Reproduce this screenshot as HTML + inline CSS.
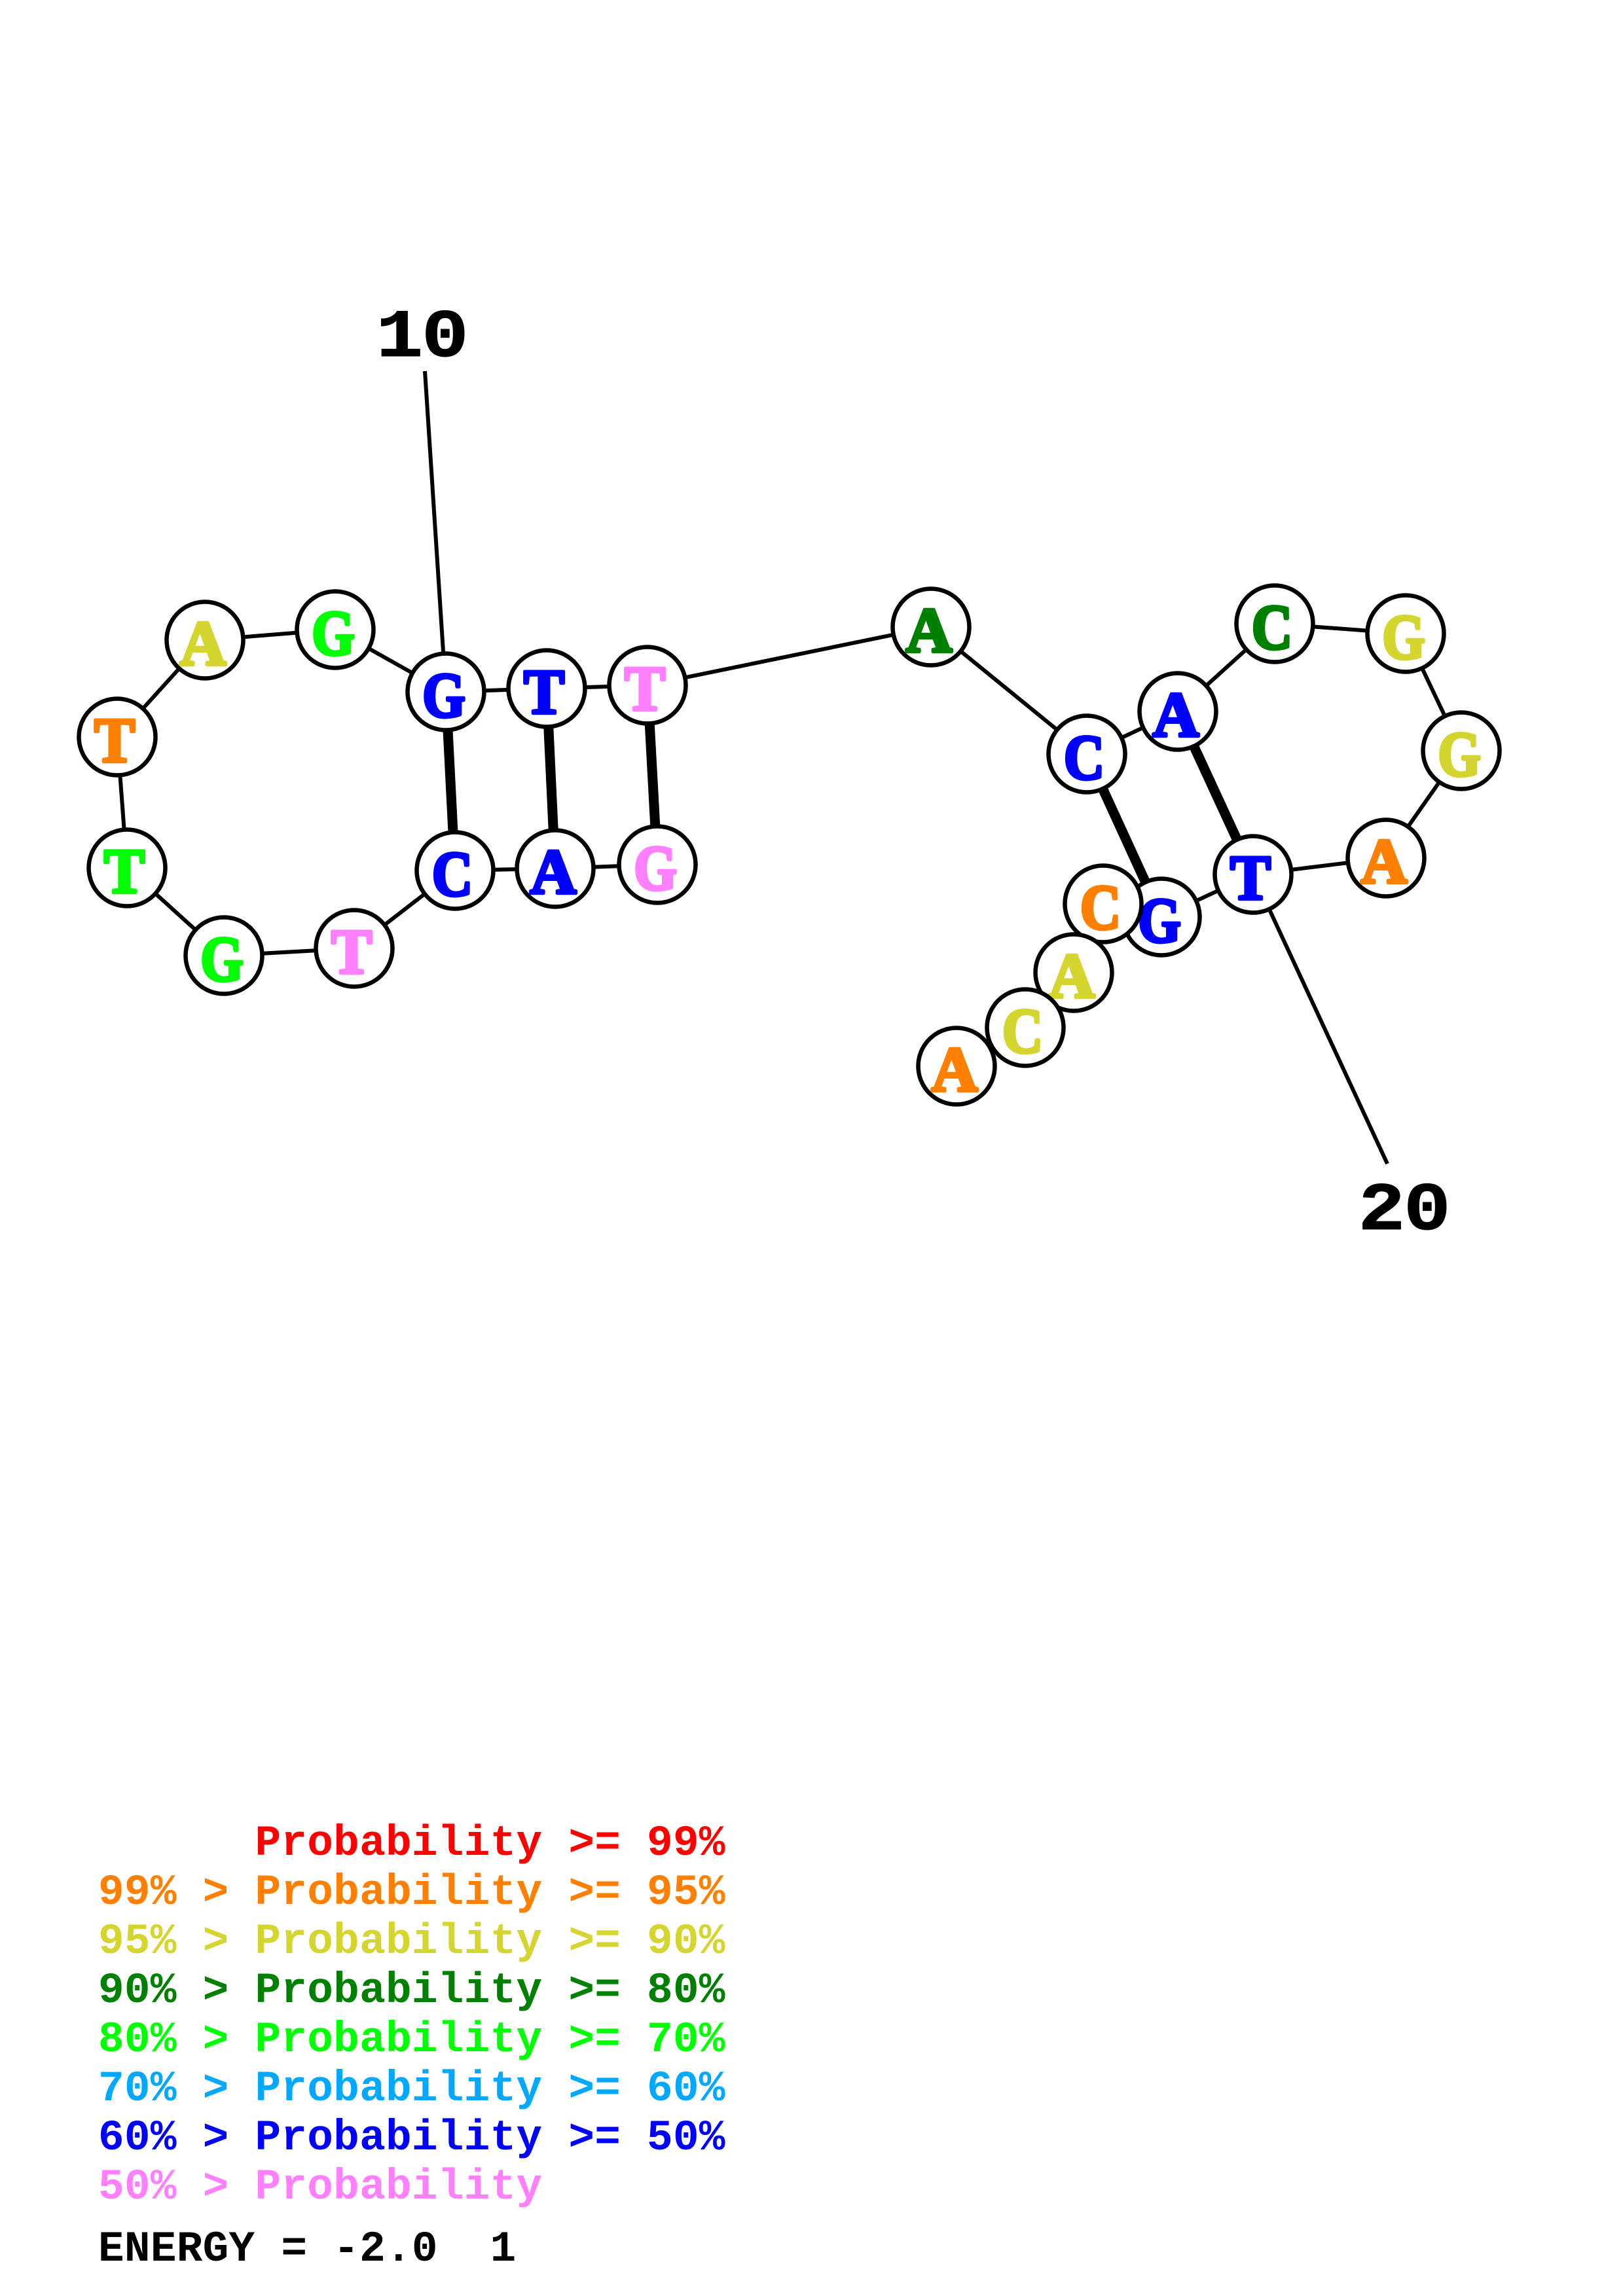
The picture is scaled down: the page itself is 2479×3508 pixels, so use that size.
<!DOCTYPE html>
<html>
<head>
<meta charset="utf-8">
<style>
html,body{margin:0;padding:0;background:#fff;width:2479px;height:3508px;overflow:hidden}
svg{display:block}
.b text{font-family:"Liberation Serif",serif;font-weight:bold;font-size:98px;text-anchor:middle;stroke-width:5px;stroke-linejoin:round;paint-order:stroke}
.A{transform:scaleX(1.0)}
.T{transform:scaleX(0.95)}
.G{transform:scaleX(0.86)}
.C{transform:scaleX(0.88)}
.n circle{fill:#fff;stroke:#000;stroke-width:6.5px}
.l text{font-family:"Liberation Mono",monospace;font-weight:bold;font-size:66px;letter-spacing:.3px;white-space:pre}
.lab{font-family:"Liberation Mono",monospace;font-weight:bold;font-size:104px;text-anchor:middle;letter-spacing:-2px;fill:#000;stroke:#000;stroke-width:1px}
</style>
</head>
<body>
<svg width="2479" height="3508" viewBox="0 0 2479 3508" xmlns="http://www.w3.org/2000/svg">
<g stroke="#000" stroke-width="6" fill="none">
<polyline points="681,1057 512,962 313,978 179,1126 194,1326 342,1460 541,1449 695,1330 848,1327 1004,1321"/>
<polyline points="681,1057 835,1052 989,1047 1422,958 1660,1152 1799,1087 1947,953 2147,968 2232,1147 2117,1311 1914,1336 1774,1401 1685,1381 1640,1486 1566,1570 1461,1629"/>
<line x1="649" y1="567" x2="681" y2="1057"/>
<line x1="2119" y1="1778" x2="1914" y2="1336"/>
</g>
<g stroke="#000" stroke-width="15" fill="none">
<line x1="681" y1="1057" x2="695" y2="1330"/>
<line x1="835" y1="1052" x2="848" y2="1327"/>
<line x1="989" y1="1047" x2="1004" y2="1321"/>
<line x1="1660" y1="1152" x2="1774" y2="1401"/>
<line x1="1799" y1="1087" x2="1914" y2="1336"/>
</g>
<g class="n b">
<circle cx="681" cy="1057" r="58.5"/><g transform="translate(678,1095)"><text class="G" fill="#0000ff" stroke="#0000ff">G</text></g>
<circle cx="512" cy="962" r="58.5"/><g transform="translate(509,1000)"><text class="G" fill="#00ff00" stroke="#00ff00">G</text></g>
<circle cx="313" cy="978" r="58.5"/><g transform="translate(310,1016)"><text class="A" fill="#d5d52f" stroke="#d5d52f">A</text></g>
<circle cx="179" cy="1126" r="58.5"/><g transform="translate(175,1164)"><text class="T" fill="#ff8000" stroke="#ff8000">T</text></g>
<circle cx="194" cy="1326" r="58.5"/><g transform="translate(190,1364)"><text class="T" fill="#00ff00" stroke="#00ff00">T</text></g>
<circle cx="342" cy="1460" r="58.5"/><g transform="translate(339,1498)"><text class="G" fill="#00ff00" stroke="#00ff00">G</text></g>
<circle cx="541" cy="1449" r="58.5"/><g transform="translate(537,1487)"><text class="T" fill="#ff80ff" stroke="#ff80ff">T</text></g>
<circle cx="695" cy="1330" r="58.5"/><g transform="translate(691,1368)"><text class="C" fill="#0000ff" stroke="#0000ff">C</text></g>
<circle cx="848" cy="1327" r="58.5"/><g transform="translate(845,1365)"><text class="A" fill="#0000ff" stroke="#0000ff">A</text></g>
<circle cx="1004" cy="1321" r="58.5"/><g transform="translate(1001,1359)"><text class="G" fill="#ff80ff" stroke="#ff80ff">G</text></g>
<circle cx="835" cy="1052" r="58.5"/><g transform="translate(831,1090)"><text class="T" fill="#0000ff" stroke="#0000ff">T</text></g>
<circle cx="989" cy="1047" r="58.5"/><g transform="translate(985,1085)"><text class="T" fill="#ff80ff" stroke="#ff80ff">T</text></g>
<circle cx="1422" cy="958" r="58.5"/><g transform="translate(1419,996)"><text class="A" fill="#008000" stroke="#008000">A</text></g>
<circle cx="1660" cy="1152" r="58.5"/><g transform="translate(1656,1190)"><text class="C" fill="#0000ff" stroke="#0000ff">C</text></g>
<circle cx="1799" cy="1087" r="58.5"/><g transform="translate(1796,1125)"><text class="A" fill="#0000ff" stroke="#0000ff">A</text></g>
<circle cx="1947" cy="953" r="58.5"/><g transform="translate(1943,991)"><text class="C" fill="#008000" stroke="#008000">C</text></g>
<circle cx="2147" cy="968" r="58.5"/><g transform="translate(2144,1006)"><text class="G" fill="#d5d52f" stroke="#d5d52f">G</text></g>
<circle cx="2232" cy="1147" r="58.5"/><g transform="translate(2229,1185)"><text class="G" fill="#d5d52f" stroke="#d5d52f">G</text></g>
<circle cx="2117" cy="1311" r="58.5"/><g transform="translate(2114,1349)"><text class="A" fill="#ff8000" stroke="#ff8000">A</text></g>
<circle cx="1914" cy="1336" r="58.5"/><g transform="translate(1910,1374)"><text class="T" fill="#0000ff" stroke="#0000ff">T</text></g>
<circle cx="1774" cy="1401" r="58.5"/><g transform="translate(1771,1439)"><text class="G" fill="#0000ff" stroke="#0000ff">G</text></g>
<circle cx="1685" cy="1381" r="58.5"/><g transform="translate(1681,1419)"><text class="C" fill="#ff8000" stroke="#ff8000">C</text></g>
<circle cx="1640" cy="1486" r="58.5"/><g transform="translate(1637,1524)"><text class="A" fill="#d5d52f" stroke="#d5d52f">A</text></g>
<circle cx="1566" cy="1570" r="58.5"/><g transform="translate(1562,1608)"><text class="C" fill="#d5d52f" stroke="#d5d52f">C</text></g>
<circle cx="1461" cy="1629" r="58.5"/><g transform="translate(1458,1667)"><text class="A" fill="#ff8000" stroke="#ff8000">A</text></g>
</g>
<g transform="translate(644,544) scale(1.15,1)"><text class="lab">10</text></g>
<g transform="translate(2144,1878) scale(1.15,1)"><text class="lab">20</text></g>
<g class="l">
<text x="150" y="2834" fill="#ff0000" xml:space="preserve">      Probability &gt;= 99%</text>
<text x="150" y="2909" fill="#ff8000" xml:space="preserve">99% &gt; Probability &gt;= 95%</text>
<text x="150" y="2984" fill="#d5d52f" xml:space="preserve">95% &gt; Probability &gt;= 90%</text>
<text x="150" y="3059" fill="#008000" xml:space="preserve">90% &gt; Probability &gt;= 80%</text>
<text x="150" y="3134" fill="#00ff00" xml:space="preserve">80% &gt; Probability &gt;= 70%</text>
<text x="150" y="3209" fill="#00a8ff" xml:space="preserve">70% &gt; Probability &gt;= 60%</text>
<text x="150" y="3284" fill="#0000ff" xml:space="preserve">60% &gt; Probability &gt;= 50%</text>
<text x="150" y="3359" fill="#ff80ff" xml:space="preserve">50% &gt; Probability</text>
<text x="150" y="3454" fill="#000000" xml:space="preserve">ENERGY = -2.0  1</text>
</g>
</svg>
</body>
</html>
